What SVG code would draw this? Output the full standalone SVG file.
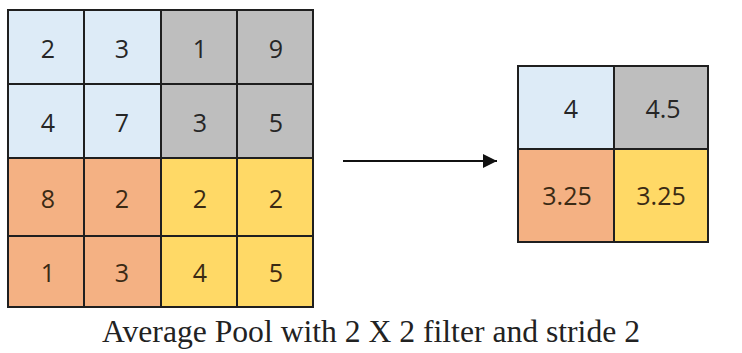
<svg xmlns="http://www.w3.org/2000/svg" width="742" height="353" viewBox="0 0 742 353">
<defs>
<style>
.c{stroke:#1f1f1f;stroke-width:2}
.b{fill:#DDEBF7}.g{fill:#BEBEBE}.o{fill:#F4B183}.y{fill:#FFD966}
.t{font-family:"Open Sans","Liberation Sans",sans-serif;font-size:25px;fill:#262626;text-anchor:middle;dominant-baseline:central}
.tw{fill:#3a2a14}
.cap{font-family:"Liberation Serif",serif;font-size:31px;fill:#222}
</style>
<marker id="ah" viewBox="0 0 10 10" refX="10" refY="5" markerWidth="20" markerHeight="14" markerUnits="userSpaceOnUse" orient="auto">
<path d="M0,0 L10,5 L0,10 z" fill="#111"/>
</marker>
</defs>
<rect width="742" height="353" fill="#fff"/>
<g id="input-grid">
<rect class="c b" x="8" y="10" width="76" height="74"/>
<rect class="c b" x="84" y="10" width="77" height="74"/>
<rect class="c g" x="161" y="10" width="76" height="74"/>
<rect class="c g" x="237" y="10" width="76" height="74"/>
<rect class="c b" x="8" y="84" width="76" height="74"/>
<rect class="c b" x="84" y="84" width="77" height="74"/>
<rect class="c g" x="161" y="84" width="76" height="74"/>
<rect class="c g" x="237" y="84" width="76" height="74"/>
<rect class="c o" x="8" y="158" width="76" height="78"/>
<rect class="c o" x="84" y="158" width="77" height="78"/>
<rect class="c y" x="161" y="158" width="76" height="78"/>
<rect class="c y" x="237" y="158" width="76" height="78"/>
<rect class="c o" x="8" y="236" width="76" height="71"/>
<rect class="c o" x="84" y="236" width="77" height="71"/>
<rect class="c y" x="161" y="236" width="76" height="71"/>
<rect class="c y" x="237" y="236" width="76" height="71"/>
<text class="t" x="48" y="48">2</text>
<text class="t" x="122" y="48">3</text>
<text class="t" x="200" y="48">1</text>
<text class="t" x="276" y="48">9</text>
<text class="t" x="48" y="122">4</text>
<text class="t" x="122" y="122">7</text>
<text class="t" x="200" y="122">3</text>
<text class="t" x="276" y="122">5</text>
<text class="t tw" x="48" y="198">8</text>
<text class="t tw" x="122" y="198">2</text>
<text class="t tw" x="200" y="198">2</text>
<text class="t tw" x="276" y="198">2</text>
<text class="t tw" x="48" y="272">1</text>
<text class="t tw" x="122" y="272">3</text>
<text class="t tw" x="200" y="272">4</text>
<text class="t tw" x="276" y="272">5</text>
</g>
<g id="connectors">
<line x1="343" y1="161" x2="497" y2="161" stroke="#111" stroke-width="2" marker-end="url(#ah)"/>
</g>
<g id="output-grid">
<rect class="c b" x="518" y="66" width="96" height="83"/>
<rect class="c g" x="614" y="66" width="94" height="83"/>
<rect class="c o" x="518" y="149" width="96" height="93"/>
<rect class="c y" x="614" y="149" width="94" height="93"/>
<text class="t" x="571" y="108">4</text>
<text class="t" x="663" y="108">4.5</text>
<text class="t tw" x="567" y="195">3.25</text>
<text class="t tw" x="661" y="195">3.25</text>
</g>
<g id="caption">
<text class="cap" x="102" y="342" textLength="538" lengthAdjust="spacingAndGlyphs">Average Pool with 2 X 2 filter and stride 2</text>
</g>
</svg>
